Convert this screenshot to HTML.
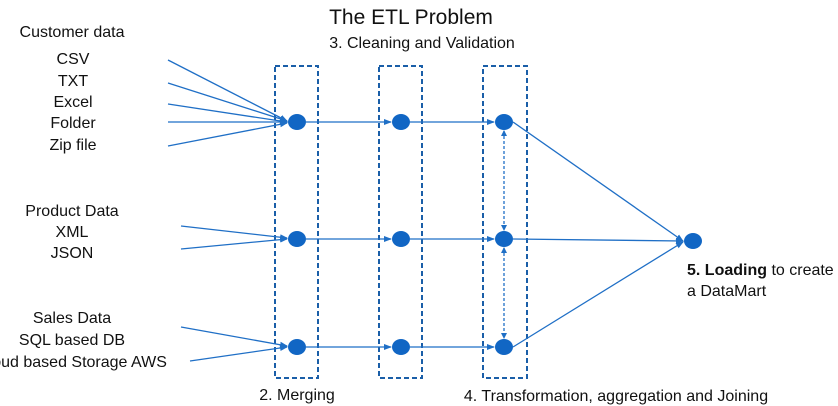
<!DOCTYPE html>
<html><head><style>
body{margin:0;background:#fff;width:838px;height:406px;overflow:hidden;}
svg{display:block;font-family:"Liberation Sans",sans-serif;}
text{font-size:16px;fill:#111;}
</style></head><body>
<svg width="838" height="406" viewBox="0 0 838 406">
<defs>
<marker id="a" markerWidth="8" markerHeight="8" refX="7" refY="4" orient="auto" markerUnits="userSpaceOnUse"><path d="M0,1 L8,4 L0,7z" fill="#1f6fc6"/></marker>
<marker id="b" markerWidth="6" markerHeight="6" refX="5" refY="3" orient="auto-start-reverse" markerUnits="userSpaceOnUse"><path d="M0,0 L6,3 L0,6z" fill="#1f6fc6"/></marker>
</defs>
<g fill="none" stroke="#1a5ea8" stroke-width="2" stroke-dasharray="5,3">
<rect x="275" y="66" width="43" height="312"/>
<rect x="379" y="66" width="43" height="312"/>
<rect x="483" y="66" width="44" height="312"/>
</g>
<g stroke="#1f6fc6" stroke-width="1.3" fill="none" marker-end="url(#a)">
<line x1="168" y1="60" x2="287" y2="121"/>
<line x1="168" y1="83" x2="287" y2="121"/>
<line x1="168" y1="104" x2="287" y2="122"/>
<line x1="168" y1="122" x2="287" y2="122"/>
<line x1="168" y1="146" x2="287" y2="123"/>
<line x1="181" y1="226" x2="287" y2="238"/>
<line x1="181" y1="249" x2="287" y2="239"/>
<line x1="181" y1="327" x2="287" y2="346"/>
<line x1="190" y1="361" x2="287" y2="347"/>
<line x1="306" y1="122" x2="391" y2="122"/>
<line x1="306" y1="239" x2="391" y2="239"/>
<line x1="306" y1="347" x2="391" y2="347"/>
<line x1="410" y1="122" x2="494" y2="122"/>
<line x1="410" y1="239" x2="494" y2="239"/>
<line x1="410" y1="347" x2="494" y2="347"/>
<line x1="513" y1="122" x2="683" y2="241"/>
<line x1="513" y1="239" x2="683" y2="241"/>
<line x1="513" y1="347" x2="683" y2="242"/>
</g>
<g stroke="#1f6fc6" stroke-width="1.3" stroke-dasharray="3,2" marker-start="url(#b)" marker-end="url(#b)">
<line x1="504" y1="131" x2="504" y2="230"/>
<line x1="504" y1="248" x2="504" y2="338"/>
</g>
<g fill="#1166c4">
<ellipse cx="297" cy="122" rx="9" ry="8"/><ellipse cx="297" cy="239" rx="9" ry="8"/><ellipse cx="297" cy="347" rx="9" ry="8"/>
<ellipse cx="401" cy="122" rx="9" ry="8"/><ellipse cx="401" cy="239" rx="9" ry="8"/><ellipse cx="401" cy="347" rx="9" ry="8"/>
<ellipse cx="504" cy="122" rx="9" ry="8"/><ellipse cx="504" cy="239" rx="9" ry="8"/><ellipse cx="504" cy="347" rx="9" ry="8"/>
<ellipse cx="693" cy="241" rx="9" ry="8"/>
</g>
<g text-anchor="middle">
<text x="411" y="24" style="font-size:21px">The ETL Problem</text>
<text x="422" y="48">3. Cleaning and Validation</text>
<text x="72" y="37">Customer data</text>
<text x="73" y="64">CSV</text>
<text x="73" y="86">TXT</text>
<text x="73" y="107">Excel</text>
<text x="73" y="128">Folder</text>
<text x="73" y="150">Zip file</text>
<text x="72" y="216">Product Data</text>
<text x="72" y="237">XML</text>
<text x="72" y="258">JSON</text>
<text x="72" y="323">Sales Data</text>
<text x="72" y="345">SQL based DB</text>
<text x="72" y="367">Cloud based Storage AWS</text>
<text x="297" y="400">2. Merging</text>
<text x="616" y="401">4. Transformation, aggregation and Joining</text>
</g>
<text x="687" y="275"><tspan font-weight="bold">5. Loading</tspan> to create</text>
<text x="687" y="296">a DataMart</text>
</svg>
</body></html>
